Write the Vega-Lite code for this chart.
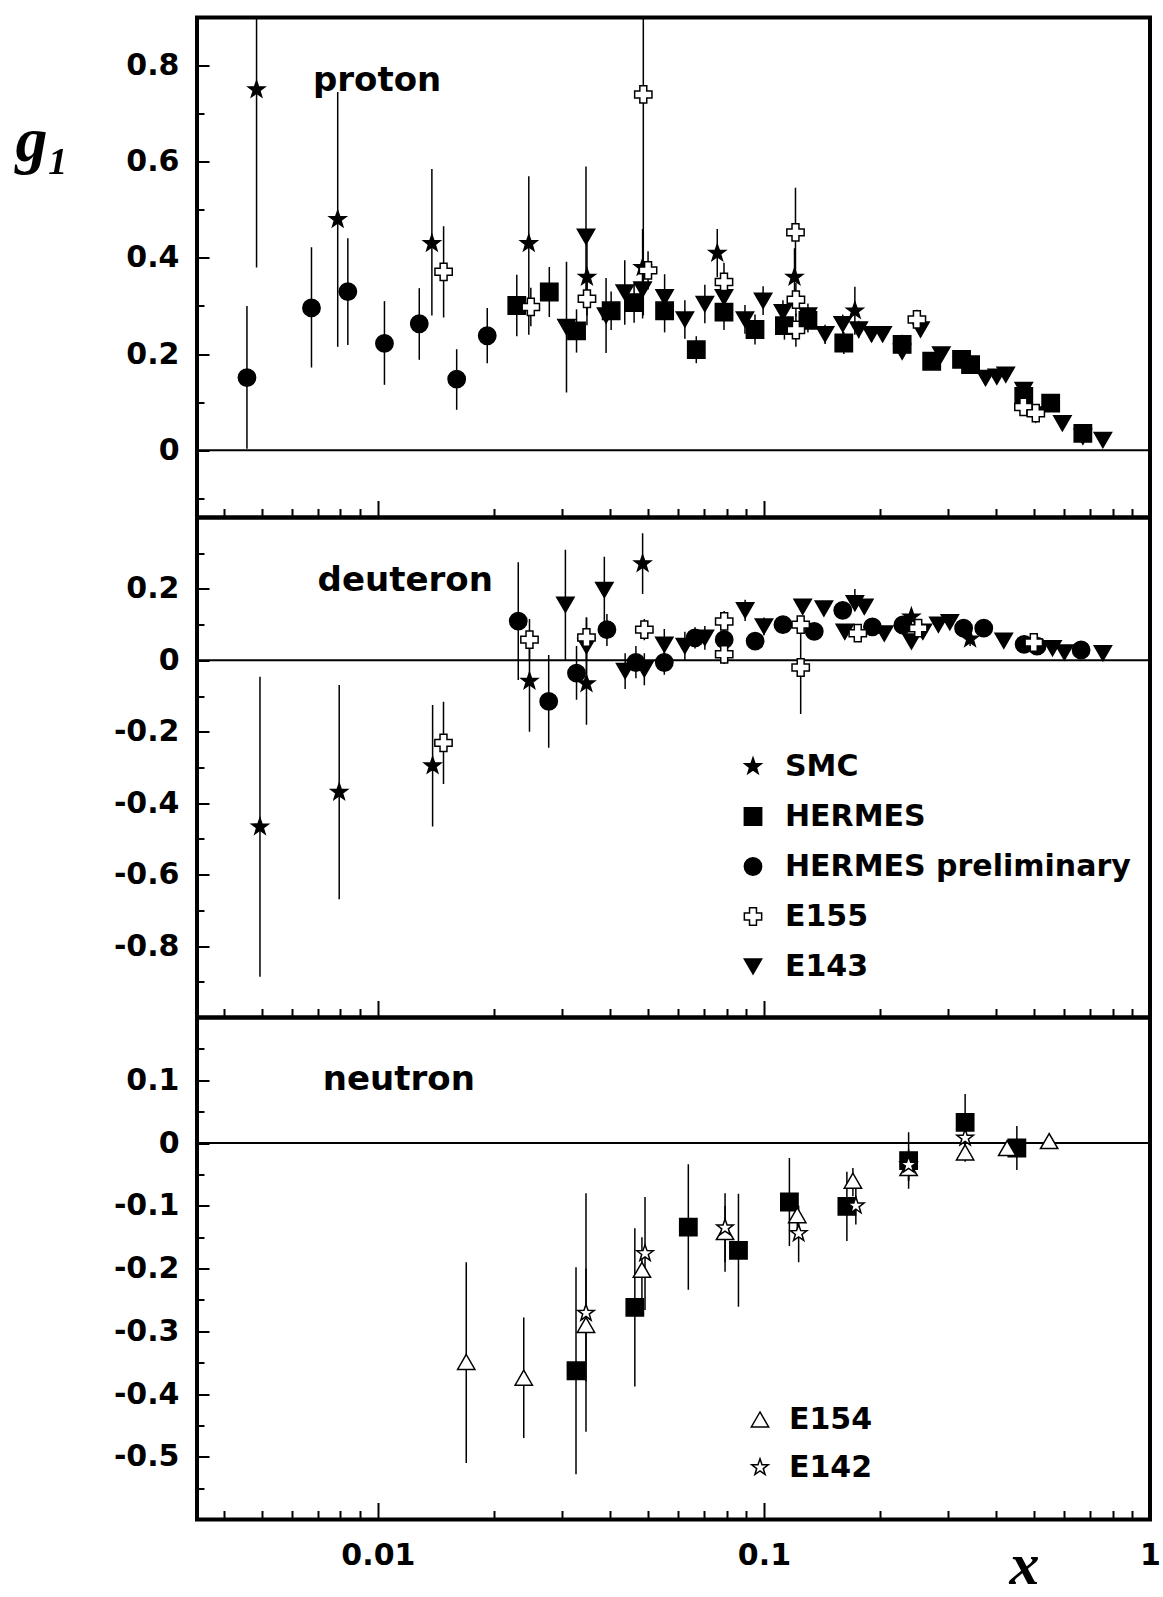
{
  "$schema": "https://vega.github.io/schema/vega-lite/v6.json",
  "background": "white",
  "padding": {"left": 13, "top": 15.5, "right": 0, "bottom": 0},
  "bounds": "flush",
  "spacing": 0,
  "config": {
    "view": {"stroke": "black", "strokeWidth": 4},
    "axis": {"grid": false, "domain": false, "tickColor": "black", "tickWidth": 2, "labelColor": "black", "labelFont": "DejaVu Sans", "labelFontWeight": "bold", "labelFontSize": 30, "labelFlush": false, "labelOverlap": false, "titleColor": "black"},
    "legend": {"labelFont": "DejaVu Sans", "labelFontWeight": "bold", "labelFontSize": 30, "labelColor": "black", "labelLimit": 500}
  },
  "datasets": {
    "proton": [
      {"exp": "HERMES preliminary", "x": 0.00458, "g1": 0.151, "lo": 0.003, "hi": 0.3},
      {"exp": "HERMES preliminary", "x": 0.00673, "g1": 0.296, "lo": 0.172, "hi": 0.422},
      {"exp": "HERMES preliminary", "x": 0.00836, "g1": 0.33, "lo": 0.219, "hi": 0.441},
      {"exp": "HERMES preliminary", "x": 0.0104, "g1": 0.222, "lo": 0.136, "hi": 0.31},
      {"exp": "HERMES preliminary", "x": 0.0128, "g1": 0.263, "lo": 0.188, "hi": 0.337},
      {"exp": "HERMES preliminary", "x": 0.016, "g1": 0.148, "lo": 0.084, "hi": 0.21},
      {"exp": "HERMES preliminary", "x": 0.0192, "g1": 0.238, "lo": 0.181, "hi": 0.296},
      {"exp": "HERMES", "x": 0.0229, "g1": 0.301, "lo": 0.237, "hi": 0.365},
      {"exp": "HERMES", "x": 0.0278, "g1": 0.329, "lo": 0.277, "hi": 0.381},
      {"exp": "HERMES", "x": 0.0327, "g1": 0.248, "lo": 0.203, "hi": 0.293},
      {"exp": "HERMES", "x": 0.0402, "g1": 0.29, "lo": 0.25, "hi": 0.33},
      {"exp": "HERMES", "x": 0.0461, "g1": 0.307, "lo": 0.265, "hi": 0.349},
      {"exp": "HERMES", "x": 0.0553, "g1": 0.29, "lo": 0.245, "hi": 0.335},
      {"exp": "HERMES", "x": 0.0668, "g1": 0.209, "lo": 0.181, "hi": 0.237},
      {"exp": "HERMES", "x": 0.0788, "g1": 0.287, "lo": 0.25, "hi": 0.324},
      {"exp": "HERMES", "x": 0.0948, "g1": 0.251, "lo": 0.22, "hi": 0.282},
      {"exp": "HERMES", "x": 0.113, "g1": 0.259, "lo": 0.23, "hi": 0.288},
      {"exp": "HERMES", "x": 0.13, "g1": 0.27, "lo": 0.245, "hi": 0.295},
      {"exp": "HERMES", "x": 0.161, "g1": 0.223, "lo": 0.2, "hi": 0.246},
      {"exp": "HERMES", "x": 0.228, "g1": 0.22, "lo": 0.2, "hi": 0.24},
      {"exp": "HERMES", "x": 0.272, "g1": 0.185, "lo": 0.17, "hi": 0.2},
      {"exp": "HERMES", "x": 0.325, "g1": 0.189, "lo": 0.175, "hi": 0.203},
      {"exp": "HERMES", "x": 0.343, "g1": 0.178, "lo": 0.165, "hi": 0.191},
      {"exp": "HERMES", "x": 0.471, "g1": 0.112, "lo": 0.1, "hi": 0.124},
      {"exp": "HERMES", "x": 0.553, "g1": 0.098, "lo": 0.087, "hi": 0.109},
      {"exp": "HERMES", "x": 0.67, "g1": 0.035, "lo": 0.025, "hi": 0.045},
      {"exp": "E143", "x": 0.0308, "g1": 0.256, "lo": 0.12, "hi": 0.392},
      {"exp": "E143", "x": 0.0346, "g1": 0.444, "lo": 0.3, "hi": 0.59},
      {"exp": "E143", "x": 0.039, "g1": 0.28, "lo": 0.202, "hi": 0.358},
      {"exp": "E143", "x": 0.0436, "g1": 0.328, "lo": 0.261, "hi": 0.395},
      {"exp": "E143", "x": 0.0485, "g1": 0.334, "lo": 0.274, "hi": 0.394},
      {"exp": "E143", "x": 0.0553, "g1": 0.318, "lo": 0.27, "hi": 0.366},
      {"exp": "E143", "x": 0.0624, "g1": 0.272, "lo": 0.232, "hi": 0.312},
      {"exp": "E143", "x": 0.0703, "g1": 0.304, "lo": 0.264, "hi": 0.344},
      {"exp": "E143", "x": 0.0788, "g1": 0.318, "lo": 0.283, "hi": 0.353},
      {"exp": "E143", "x": 0.0893, "g1": 0.272, "lo": 0.242, "hi": 0.302},
      {"exp": "E143", "x": 0.0995, "g1": 0.311, "lo": 0.281, "hi": 0.341},
      {"exp": "E143", "x": 0.112, "g1": 0.287, "lo": 0.262, "hi": 0.312},
      {"exp": "E143", "x": 0.13, "g1": 0.28, "lo": 0.255, "hi": 0.305},
      {"exp": "E143", "x": 0.144, "g1": 0.241, "lo": 0.221, "hi": 0.261},
      {"exp": "E143", "x": 0.16, "g1": 0.262, "lo": 0.242, "hi": 0.282},
      {"exp": "E143", "x": 0.176, "g1": 0.251, "lo": 0.233, "hi": 0.269},
      {"exp": "E143", "x": 0.19, "g1": 0.241, "lo": 0.225, "hi": 0.257},
      {"exp": "E143", "x": 0.203, "g1": 0.241, "lo": 0.226, "hi": 0.256},
      {"exp": "E143", "x": 0.228, "g1": 0.205, "lo": 0.19, "hi": 0.22},
      {"exp": "E143", "x": 0.2545, "g1": 0.251, "lo": 0.236, "hi": 0.266},
      {"exp": "E143", "x": 0.288, "g1": 0.199, "lo": 0.186, "hi": 0.212},
      {"exp": "E143", "x": 0.375, "g1": 0.15, "lo": 0.14, "hi": 0.16},
      {"exp": "E143", "x": 0.401, "g1": 0.153, "lo": 0.143, "hi": 0.163},
      {"exp": "E143", "x": 0.423, "g1": 0.157, "lo": 0.147, "hi": 0.167},
      {"exp": "E143", "x": 0.471, "g1": 0.125, "lo": 0.115, "hi": 0.135},
      {"exp": "E143", "x": 0.506, "g1": 0.074, "lo": 0.064, "hi": 0.084},
      {"exp": "E143", "x": 0.593, "g1": 0.056, "lo": 0.047, "hi": 0.065},
      {"exp": "E143", "x": 0.67, "g1": 0.028, "lo": 0.02, "hi": 0.036},
      {"exp": "E143", "x": 0.755, "g1": 0.021, "lo": 0.014, "hi": 0.028},
      {"exp": "SMC", "x": 0.00485, "g1": 0.75, "lo": 0.38, "hi": 1.12},
      {"exp": "SMC", "x": 0.00787, "g1": 0.48, "lo": 0.215, "hi": 0.745},
      {"exp": "SMC", "x": 0.0138, "g1": 0.43, "lo": 0.28, "hi": 0.585},
      {"exp": "SMC", "x": 0.0246, "g1": 0.43, "lo": 0.24, "hi": 0.57},
      {"exp": "SMC", "x": 0.0348, "g1": 0.36, "lo": 0.26, "hi": 0.46},
      {"exp": "SMC", "x": 0.0485, "g1": 0.38, "lo": 0.31, "hi": 0.46},
      {"exp": "SMC", "x": 0.0757, "g1": 0.41, "lo": 0.36, "hi": 0.46},
      {"exp": "SMC", "x": 0.12, "g1": 0.36, "lo": 0.3, "hi": 0.42},
      {"exp": "SMC", "x": 0.172, "g1": 0.29, "lo": 0.24, "hi": 0.34},
      {"exp": "E155", "x": 0.0148, "g1": 0.371, "lo": 0.276, "hi": 0.466},
      {"exp": "E155", "x": 0.0249, "g1": 0.298, "lo": 0.258, "hi": 0.338},
      {"exp": "E155", "x": 0.0348, "g1": 0.315, "lo": 0.28, "hi": 0.35},
      {"exp": "E155", "x": 0.0487, "g1": 0.74, "lo": 0.28, "hi": 1.2},
      {"exp": "E155", "x": 0.0501, "g1": 0.374, "lo": 0.334, "hi": 0.414},
      {"exp": "E155", "x": 0.0788, "g1": 0.35, "lo": 0.31, "hi": 0.39},
      {"exp": "E155", "x": 0.1207, "g1": 0.453, "lo": 0.36, "hi": 0.546},
      {"exp": "E155", "x": 0.121, "g1": 0.313, "lo": 0.278, "hi": 0.348},
      {"exp": "E155", "x": 0.121, "g1": 0.25, "lo": 0.215, "hi": 0.285},
      {"exp": "E155", "x": 0.249, "g1": 0.272, "lo": 0.252, "hi": 0.292},
      {"exp": "E155", "x": 0.47, "g1": 0.09, "lo": 0.075, "hi": 0.105},
      {"exp": "E155", "x": 0.506, "g1": 0.077, "lo": 0.06, "hi": 0.094}
    ],
    "deuteron": [
      {"exp": "HERMES preliminary", "x": 0.0231, "g1": 0.11, "lo": -0.055, "hi": 0.275},
      {"exp": "HERMES preliminary", "x": 0.0277, "g1": -0.115, "lo": -0.245, "hi": 0.015},
      {"exp": "HERMES preliminary", "x": 0.0327, "g1": -0.036, "lo": -0.11, "hi": 0.04},
      {"exp": "HERMES preliminary", "x": 0.0392, "g1": 0.086, "lo": 0.04, "hi": 0.13},
      {"exp": "HERMES preliminary", "x": 0.0466, "g1": -0.006, "lo": -0.05, "hi": 0.04},
      {"exp": "HERMES preliminary", "x": 0.0552, "g1": -0.006, "lo": -0.04, "hi": 0.03},
      {"exp": "HERMES preliminary", "x": 0.0663, "g1": 0.063, "lo": 0.033, "hi": 0.093},
      {"exp": "HERMES preliminary", "x": 0.0789, "g1": 0.058, "lo": 0.03, "hi": 0.086},
      {"exp": "HERMES preliminary", "x": 0.0949, "g1": 0.054, "lo": 0.03, "hi": 0.078},
      {"exp": "HERMES preliminary", "x": 0.112, "g1": 0.1, "lo": 0.08, "hi": 0.12},
      {"exp": "HERMES preliminary", "x": 0.135, "g1": 0.081, "lo": 0.06, "hi": 0.1},
      {"exp": "HERMES preliminary", "x": 0.16, "g1": 0.14, "lo": 0.12, "hi": 0.16},
      {"exp": "HERMES preliminary", "x": 0.191, "g1": 0.094, "lo": 0.078, "hi": 0.11},
      {"exp": "HERMES preliminary", "x": 0.229, "g1": 0.099, "lo": 0.084, "hi": 0.114},
      {"exp": "HERMES preliminary", "x": 0.329, "g1": 0.09, "lo": 0.077, "hi": 0.103},
      {"exp": "HERMES preliminary", "x": 0.371, "g1": 0.09, "lo": 0.078, "hi": 0.102},
      {"exp": "HERMES preliminary", "x": 0.472, "g1": 0.045, "lo": 0.035, "hi": 0.055},
      {"exp": "HERMES preliminary", "x": 0.51, "g1": 0.04, "lo": 0.03, "hi": 0.05},
      {"exp": "HERMES preliminary", "x": 0.663, "g1": 0.029, "lo": 0.02, "hi": 0.038},
      {"exp": "E143", "x": 0.0306, "g1": 0.156, "lo": 0.0, "hi": 0.31},
      {"exp": "E143", "x": 0.0347, "g1": 0.04, "lo": -0.04, "hi": 0.12},
      {"exp": "E143", "x": 0.0386, "g1": 0.197, "lo": 0.1, "hi": 0.29},
      {"exp": "E143", "x": 0.0437, "g1": -0.03, "lo": -0.08, "hi": 0.02},
      {"exp": "E143", "x": 0.049, "g1": -0.025, "lo": -0.07, "hi": 0.02},
      {"exp": "E143", "x": 0.0552, "g1": 0.044, "lo": 0.0, "hi": 0.088},
      {"exp": "E143", "x": 0.0624, "g1": 0.04, "lo": 0.0, "hi": 0.08},
      {"exp": "E143", "x": 0.0703, "g1": 0.063, "lo": 0.03, "hi": 0.096},
      {"exp": "E143", "x": 0.0894, "g1": 0.14, "lo": 0.11, "hi": 0.17},
      {"exp": "E143", "x": 0.1, "g1": 0.095, "lo": 0.07, "hi": 0.12},
      {"exp": "E143", "x": 0.126, "g1": 0.15, "lo": 0.13, "hi": 0.17},
      {"exp": "E143", "x": 0.143, "g1": 0.145, "lo": 0.125, "hi": 0.165},
      {"exp": "E143", "x": 0.162, "g1": 0.08, "lo": 0.06, "hi": 0.1},
      {"exp": "E143", "x": 0.172, "g1": 0.16, "lo": 0.14, "hi": 0.2},
      {"exp": "E143", "x": 0.182, "g1": 0.15, "lo": 0.13, "hi": 0.17},
      {"exp": "E143", "x": 0.205, "g1": 0.075, "lo": 0.058, "hi": 0.092},
      {"exp": "E143", "x": 0.241, "g1": 0.053, "lo": 0.038, "hi": 0.068},
      {"exp": "E143", "x": 0.258, "g1": 0.08, "lo": 0.065, "hi": 0.095},
      {"exp": "E143", "x": 0.283, "g1": 0.1, "lo": 0.087, "hi": 0.113},
      {"exp": "E143", "x": 0.303, "g1": 0.107, "lo": 0.094, "hi": 0.12},
      {"exp": "E143", "x": 0.418, "g1": 0.055, "lo": 0.045, "hi": 0.065},
      {"exp": "E143", "x": 0.559, "g1": 0.034, "lo": 0.025, "hi": 0.043},
      {"exp": "E143", "x": 0.6, "g1": 0.022, "lo": 0.014, "hi": 0.03},
      {"exp": "E143", "x": 0.755, "g1": 0.02, "lo": 0.012, "hi": 0.028},
      {"exp": "SMC", "x": 0.00495, "g1": -0.466, "lo": -0.886, "hi": -0.046},
      {"exp": "SMC", "x": 0.00794, "g1": -0.369, "lo": -0.669, "hi": -0.069},
      {"exp": "SMC", "x": 0.01386, "g1": -0.295, "lo": -0.465, "hi": -0.125},
      {"exp": "SMC", "x": 0.0247, "g1": -0.058, "lo": -0.2, "hi": 0.085},
      {"exp": "SMC", "x": 0.0347, "g1": -0.065, "lo": -0.18, "hi": 0.05},
      {"exp": "SMC", "x": 0.0485, "g1": 0.271, "lo": 0.186, "hi": 0.356},
      {"exp": "SMC", "x": 0.241, "g1": 0.122, "lo": 0.1, "hi": 0.144},
      {"exp": "SMC", "x": 0.342, "g1": 0.06, "lo": 0.04, "hi": 0.08},
      {"exp": "E155", "x": 0.01479, "g1": -0.231, "lo": -0.346, "hi": -0.116},
      {"exp": "E155", "x": 0.0247, "g1": 0.058, "lo": 0.0, "hi": 0.116},
      {"exp": "E155", "x": 0.0347, "g1": 0.064, "lo": 0.0, "hi": 0.12},
      {"exp": "E155", "x": 0.049, "g1": 0.086, "lo": 0.056, "hi": 0.116},
      {"exp": "E155", "x": 0.0789, "g1": 0.109, "lo": 0.08, "hi": 0.138},
      {"exp": "E155", "x": 0.0789, "g1": 0.017, "lo": -0.01, "hi": 0.044},
      {"exp": "E155", "x": 0.1245, "g1": -0.02, "lo": -0.15, "hi": 0.11},
      {"exp": "E155", "x": 0.1245, "g1": 0.1, "lo": 0.075, "hi": 0.125},
      {"exp": "E155", "x": 0.175, "g1": 0.076, "lo": 0.056, "hi": 0.096},
      {"exp": "E155", "x": 0.251, "g1": 0.09, "lo": 0.075, "hi": 0.105},
      {"exp": "E155", "x": 0.5, "g1": 0.05, "lo": 0.038, "hi": 0.062}
    ],
    "neutronH": [
      {"exp": "HERMES", "x": 0.0326, "g1": -0.363, "lo": -0.528, "hi": -0.198},
      {"exp": "HERMES", "x": 0.0463, "g1": -0.262, "lo": -0.388, "hi": -0.136},
      {"exp": "HERMES", "x": 0.0637, "g1": -0.134, "lo": -0.234, "hi": -0.034},
      {"exp": "HERMES", "x": 0.0859, "g1": -0.171, "lo": -0.261, "hi": -0.081},
      {"exp": "HERMES", "x": 0.1164, "g1": -0.094, "lo": -0.164, "hi": -0.024},
      {"exp": "HERMES", "x": 0.164, "g1": -0.101, "lo": -0.156, "hi": -0.046},
      {"exp": "HERMES", "x": 0.237, "g1": -0.028, "lo": -0.073, "hi": 0.017},
      {"exp": "HERMES", "x": 0.332, "g1": 0.033, "lo": -0.012, "hi": 0.078},
      {"exp": "HERMES", "x": 0.452, "g1": -0.008, "lo": -0.043, "hi": 0.027}
    ],
    "neutronE": [
      {"exp": "E154", "x": 0.01694, "g1": -0.349, "lo": -0.51, "hi": -0.19},
      {"exp": "E154", "x": 0.02387, "g1": -0.374, "lo": -0.47, "hi": -0.278},
      {"exp": "E154", "x": 0.0346, "g1": -0.29, "lo": -0.38, "hi": -0.2},
      {"exp": "E154", "x": 0.0483, "g1": -0.202, "lo": -0.25, "hi": -0.15},
      {"exp": "E154", "x": 0.0793, "g1": -0.142, "lo": -0.205, "hi": -0.1},
      {"exp": "E154", "x": 0.122, "g1": -0.115, "lo": -0.15, "hi": -0.08},
      {"exp": "E154", "x": 0.17, "g1": -0.06, "lo": -0.085, "hi": -0.04},
      {"exp": "E154", "x": 0.237, "g1": -0.04, "lo": -0.06, "hi": -0.02},
      {"exp": "E154", "x": 0.332, "g1": -0.015, "lo": -0.03, "hi": 0.0},
      {"exp": "E154", "x": 0.4266, "g1": -0.008, "lo": -0.02, "hi": 0.004},
      {"exp": "E154", "x": 0.548, "g1": 0.003, "lo": -0.006, "hi": 0.012},
      {"exp": "E142", "x": 0.0346, "g1": -0.271, "lo": -0.46, "hi": -0.08},
      {"exp": "E142", "x": 0.0492, "g1": -0.176, "lo": -0.266, "hi": -0.086},
      {"exp": "E142", "x": 0.0793, "g1": -0.135, "lo": -0.19, "hi": -0.08},
      {"exp": "E142", "x": 0.123, "g1": -0.144, "lo": -0.19, "hi": -0.1},
      {"exp": "E142", "x": 0.173, "g1": -0.1, "lo": -0.13, "hi": -0.07},
      {"exp": "E142", "x": 0.237, "g1": -0.035, "lo": -0.06, "hi": -0.01},
      {"exp": "E142", "x": 0.332, "g1": 0.008, "lo": -0.01, "hi": 0.026}
    ]
  },
  "vconcat": [
    {
      "width": 953, "height": 500,
      "data": {"name": "proton"},
      "layer": [
        {
          "data": {"values": [{}]},
          "mark": {"type": "rule", "color": "black", "strokeWidth": 2},
          "encoding": {"y": {"datum": 0, "type": "quantitative", "scale": {"domain": [-0.14, 0.9], "nice": false, "zero": false}, "axis": null}}
        },
        {
          "mark": {"type": "rule", "color": "black", "strokeWidth": 1.5, "clip": true},
          "encoding": {
            "x": {"field": "x", "type": "quantitative", "scale": {"type": "log", "domain": [0.0034, 1], "nice": false}, "axis": {"orient": "bottom", "values": [0.01, 0.1], "tickSize": -17, "labels": false, "title": null}},
            "y": {"field": "lo", "type": "quantitative", "scale": {"domain": [-0.14, 0.9], "nice": false, "zero": false}, "axis": {"orient": "left", "values": [0, 0.2, 0.4, 0.6, 0.8], "tickSize": -12, "labelPadding": 30, "format": ".1~f", "labelExpr": "replace(datum.label, '\u2212', '-')", "title": "g\u2081", "titleFont": "Liberation Serif", "titleFontStyle": "italic", "titleFontWeight": "bold", "titleFontSize": 64, "titleAngle": 0, "titleX": -182, "titleY": 143, "titleAlign": "left", "titleBaseline": "alphabetic"}},
            "y2": {"field": "hi"}
          }
        },
        {
          "mark": {"type": "point", "filled": true, "size": 300, "stroke": "black", "strokeWidth": 1.5, "opacity": 1},
          "encoding": {
            "x": {"field": "x", "type": "quantitative", "scale": {"type": "log", "domain": [0.0034, 1], "nice": false}, "axis": {"orient": "bottom", "values": [0.004, 0.005, 0.006, 0.007, 0.008, 0.009, 0.02, 0.03, 0.04, 0.05, 0.06, 0.07, 0.08, 0.09, 0.2, 0.3, 0.4, 0.5, 0.6, 0.7, 0.8, 0.9], "tickSize": -9, "labels": false, "title": null}},
            "y": {"field": "g1", "type": "quantitative", "scale": {"domain": [-0.14, 0.9], "nice": false, "zero": false}, "axis": {"orient": "left", "values": [-0.1, 0.1, 0.3, 0.5, 0.7], "tickSize": -7, "labels": false, "title": null}},
            "shape": {"field": "exp", "type": "nominal", "scale": {"domain": ["SMC", "HERMES", "HERMES preliminary", "E155", "E143"], "range": ["M0,-1L0.235,-0.324L0.951,-0.309L0.38,0.124L0.588,0.809L0,0.4L-0.588,0.809L-0.38,0.124L-0.951,-0.309L-0.235,-0.324Z", "square", "circle", "cross", "triangle-down"]}, "legend": null},
            "fill": {"field": "exp", "type": "nominal", "scale": {"domain": ["SMC", "HERMES", "HERMES preliminary", "E155", "E143"], "range": ["black", "black", "black", "white", "black"]}, "legend": null}
          }
        },
        {
          "data": {"values": [{}]},
          "mark": {"type": "text", "text": "proton", "font": "DejaVu Sans", "fontSize": 34, "fontWeight": "bold", "align": "left", "baseline": "middle", "color": "black"},
          "encoding": {
            "x": {"datum": 0.00679, "type": "quantitative", "scale": {"type": "log", "domain": [0.0034, 1], "nice": false}, "axis": null},
            "y": {"datum": 0.767, "type": "quantitative", "scale": {"domain": [-0.14, 0.9], "nice": false, "zero": false}, "axis": null}
          }
        }
      ],
      "resolve": {"axis": {"x": "independent", "y": "independent"}}
    },
    {
      "width": 953, "height": 500,
      "data": {"name": "deuteron"},
      "layer": [
        {
          "data": {"values": [{}]},
          "mark": {"type": "rule", "color": "black", "strokeWidth": 2},
          "encoding": {"y": {"datum": 0, "type": "quantitative", "scale": {"domain": [-1, 0.4], "nice": false, "zero": false}, "axis": null}}
        },
        {
          "mark": {"type": "rule", "color": "black", "strokeWidth": 1.5, "clip": true},
          "encoding": {
            "x": {"field": "x", "type": "quantitative", "scale": {"type": "log", "domain": [0.0034, 1], "nice": false}, "axis": {"orient": "bottom", "values": [0.01, 0.1], "tickSize": -17, "labels": false, "title": null}},
            "y": {"field": "lo", "type": "quantitative", "scale": {"domain": [-1, 0.4], "nice": false, "zero": false}, "axis": {"orient": "left", "values": [-0.8, -0.6, -0.4, -0.2, 0, 0.2], "tickSize": -12, "labelPadding": 30, "format": ".1~f", "labelExpr": "replace(datum.label, '\u2212', '-')", "title": null}},
            "y2": {"field": "hi"}
          }
        },
        {
          "mark": {"type": "point", "filled": true, "size": 300, "stroke": "black", "strokeWidth": 1.5, "opacity": 1},
          "encoding": {
            "x": {"field": "x", "type": "quantitative", "scale": {"type": "log", "domain": [0.0034, 1], "nice": false}, "axis": {"orient": "bottom", "values": [0.004, 0.005, 0.006, 0.007, 0.008, 0.009, 0.02, 0.03, 0.04, 0.05, 0.06, 0.07, 0.08, 0.09, 0.2, 0.3, 0.4, 0.5, 0.6, 0.7, 0.8, 0.9], "tickSize": -9, "labels": false, "title": null}},
            "y": {"field": "g1", "type": "quantitative", "scale": {"domain": [-1, 0.4], "nice": false, "zero": false}, "axis": {"orient": "left", "values": [-0.9, -0.7, -0.5, -0.3, -0.1, 0.1, 0.3], "tickSize": -7, "labels": false, "title": null}},
            "shape": {"field": "exp", "type": "nominal", "scale": {"domain": ["SMC", "HERMES", "HERMES preliminary", "E155", "E143"], "range": ["M0,-1L0.235,-0.324L0.951,-0.309L0.38,0.124L0.588,0.809L0,0.4L-0.588,0.809L-0.38,0.124L-0.951,-0.309L-0.235,-0.324Z", "square", "circle", "cross", "triangle-down"]}, "legend": {"orient": "none", "legendX": 541, "legendY": 234, "title": null, "padding": 0, "symbolSize": 300, "rowPadding": 20, "labelOffset": 17, "labelLimit": 500, "labelFontSize": 30, "labelFont": "DejaVu Sans", "labelFontWeight": "bold", "encode": {"symbols": {"update": {"stroke": {"value": "black"}, "strokeWidth": {"value": 1.5}}}}}},
            "fill": {"field": "exp", "type": "nominal", "scale": {"domain": ["SMC", "HERMES", "HERMES preliminary", "E155", "E143"], "range": ["black", "black", "black", "white", "black"]}, "legend": {"orient": "none", "legendX": 541, "legendY": 234, "title": null, "padding": 0, "symbolSize": 300, "rowPadding": 20, "labelOffset": 17, "labelLimit": 500, "labelFontSize": 30, "labelFont": "DejaVu Sans", "labelFontWeight": "bold", "encode": {"symbols": {"update": {"stroke": {"value": "black"}, "strokeWidth": {"value": 1.5}}}}}}
          }
        },
        {
          "data": {"values": [{}]},
          "mark": {"type": "text", "text": "deuteron", "font": "DejaVu Sans", "fontSize": 34, "fontWeight": "bold", "align": "left", "baseline": "middle", "color": "black"},
          "encoding": {
            "x": {"datum": 0.00698, "type": "quantitative", "scale": {"type": "log", "domain": [0.0034, 1], "nice": false}, "axis": null},
            "y": {"datum": 0.2235, "type": "quantitative", "scale": {"domain": [-1, 0.4], "nice": false, "zero": false}, "axis": null}
          }
        }
      ],
      "resolve": {"axis": {"x": "independent", "y": "independent"}}
    },
    {
      "width": 953, "height": 502,
      "layer": [
        {
          "data": {"values": [{}]},
          "mark": {"type": "rule", "color": "black", "strokeWidth": 2},
          "encoding": {"y": {"datum": 0, "type": "quantitative", "scale": {"domain": [-0.6, 0.2], "nice": false, "zero": false}, "axis": null}}
        },
        {
          "data": {"name": "neutronH"},
          "mark": {"type": "rule", "color": "black", "strokeWidth": 1.5, "clip": true},
          "encoding": {
            "x": {"field": "x", "type": "quantitative", "scale": {"type": "log", "domain": [0.0034, 1], "nice": false}, "axis": {"orient": "bottom", "values": [0.01, 0.1, 1], "tickSize": -17, "labelPadding": 38, "format": "~g", "title": "x", "titleFont": "Liberation Serif", "titleFontStyle": "italic", "titleFontWeight": "bold", "titleFontSize": 60, "titleX": 827, "titleY": 64, "titleAlign": "center", "titleBaseline": "alphabetic"}},
            "y": {"field": "lo", "type": "quantitative", "scale": {"domain": [-0.6, 0.2], "nice": false, "zero": false}, "axis": {"orient": "left", "values": [-0.5, -0.4, -0.3, -0.2, -0.1, 0, 0.1], "tickSize": -12, "labelPadding": 30, "format": ".1~f", "labelExpr": "replace(datum.label, '\u2212', '-')", "title": null}},
            "y2": {"field": "hi"}
          }
        },
        {
          "data": {"name": "neutronE"},
          "mark": {"type": "rule", "color": "black", "strokeWidth": 1.5, "clip": true},
          "encoding": {
            "x": {"field": "x", "type": "quantitative", "scale": {"type": "log", "domain": [0.0034, 1], "nice": false}, "axis": null},
            "y": {"field": "lo", "type": "quantitative", "scale": {"domain": [-0.6, 0.2], "nice": false, "zero": false}, "axis": null},
            "y2": {"field": "hi"}
          }
        },
        {
          "data": {"name": "neutronH"},
          "mark": {"type": "point", "filled": true, "shape": "square", "fill": "black", "size": 300, "stroke": "black", "strokeWidth": 1.5, "opacity": 1},
          "encoding": {
            "x": {"field": "x", "type": "quantitative", "scale": {"type": "log", "domain": [0.0034, 1], "nice": false}, "axis": {"orient": "bottom", "values": [0.004, 0.005, 0.006, 0.007, 0.008, 0.009, 0.02, 0.03, 0.04, 0.05, 0.06, 0.07, 0.08, 0.09, 0.2, 0.3, 0.4, 0.5, 0.6, 0.7, 0.8, 0.9], "tickSize": -9, "labels": false, "title": null}},
            "y": {"field": "g1", "type": "quantitative", "scale": {"domain": [-0.6, 0.2], "nice": false, "zero": false}, "axis": {"orient": "left", "values": [-0.55, -0.45, -0.35, -0.25, -0.15, -0.05, 0.05, 0.15], "tickSize": -7, "labels": false, "title": null}}
          }
        },
        {
          "data": {"name": "neutronE"},
          "mark": {"type": "point", "filled": true, "size": 300, "stroke": "black", "strokeWidth": 1.5, "opacity": 1},
          "encoding": {
            "x": {"field": "x", "type": "quantitative", "scale": {"type": "log", "domain": [0.0034, 1], "nice": false}, "axis": null},
            "y": {"field": "g1", "type": "quantitative", "scale": {"domain": [-0.6, 0.2], "nice": false, "zero": false}, "axis": null},
            "shape": {"field": "exp", "type": "nominal", "scale": {"domain": ["E154", "E142"], "range": ["triangle-up", "M0,-1L0.235,-0.324L0.951,-0.309L0.38,0.124L0.588,0.809L0,0.4L-0.588,0.809L-0.38,0.124L-0.951,-0.309L-0.235,-0.324Z"]}, "legend": {"orient": "none", "legendX": 548, "legendY": 387, "title": null, "padding": 0, "symbolSize": 300, "rowPadding": 18, "labelOffset": 14, "labelLimit": 500, "labelFontSize": 30, "labelFont": "DejaVu Sans", "labelFontWeight": "bold", "encode": {"symbols": {"update": {"stroke": {"value": "black"}, "strokeWidth": {"value": 1.5}}}}}},
            "fill": {"field": "exp", "type": "nominal", "scale": {"domain": ["E154", "E142"], "range": ["white", "white"]}, "legend": {"orient": "none", "legendX": 548, "legendY": 387, "title": null, "padding": 0, "symbolSize": 300, "rowPadding": 18, "labelOffset": 14, "labelLimit": 500, "labelFontSize": 30, "labelFont": "DejaVu Sans", "labelFontWeight": "bold", "encode": {"symbols": {"update": {"stroke": {"value": "black"}, "strokeWidth": {"value": 1.5}}}}}}
          }
        },
        {
          "data": {"values": [{}]},
          "mark": {"type": "text", "text": "neutron", "font": "DejaVu Sans", "fontSize": 34, "fontWeight": "bold", "align": "left", "baseline": "middle", "color": "black"},
          "encoding": {
            "x": {"datum": 0.0072, "type": "quantitative", "scale": {"type": "log", "domain": [0.0034, 1], "nice": false}, "axis": null},
            "y": {"datum": 0.101, "type": "quantitative", "scale": {"domain": [-0.6, 0.2], "nice": false, "zero": false}, "axis": null}
          }
        }
      ],
      "resolve": {"axis": {"x": "independent", "y": "independent"}}
    }
  ],
  "resolve": {"scale": {"x": "independent", "y": "independent", "shape": "independent", "fill": "independent"}}
}
